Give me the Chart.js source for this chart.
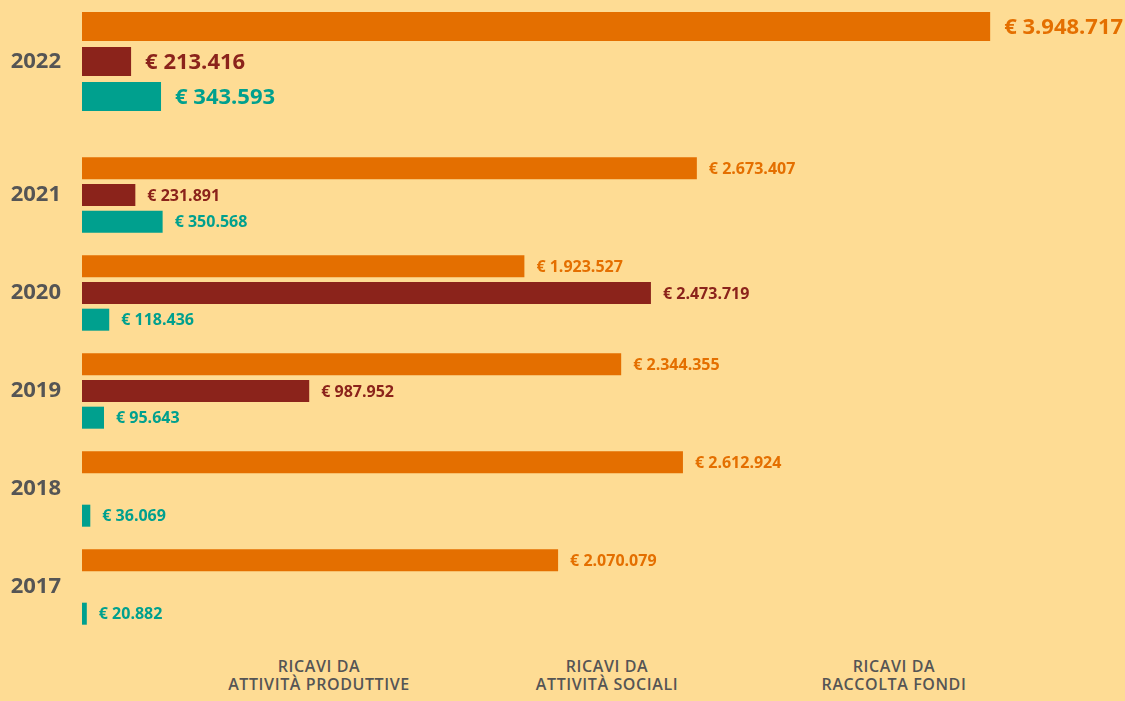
<!DOCTYPE html>
<html lang="it">
<head>
<meta charset="utf-8">
<title>Ricavi 2017-2022</title>
<script src="https://cdn.jsdelivr.net/npm/chart.js@4.4.1/dist/chart.umd.min.js"></script>
<style>
  html, body {
    margin: 0;
    padding: 0;
    background: #fedc94;
    width: 1125px;
    height: 701px;
    overflow: hidden;
    font-family: "Open Sans", sans-serif;
  }
  .box { position: absolute; left: 0; width: 1125px; }
  #boxTop { top: 0; height: 123px; }
  #boxBottom { top: 146px; height: 490px; }
  .voce {
    position: absolute;
    top: 657px;
    width: 290px;
    text-align: center;
    font-size: 16px;
    font-weight: 600;
    letter-spacing: 0.6px;
    line-height: 18px;
    color: #555555;
  }
</style>
</head>
<body>
<div class="box" id="boxTop"><canvas id="chart2022"></canvas></div>
<div class="box" id="boxBottom"><canvas id="chartStorico"></canvas></div>
<div id="voci"></div>

<script>
// dati dei ricavi per anno (in euro)
const anni = ["2022", "2021", "2020", "2019", "2018", "2017"];
const raccoltaFondi = [3948717, 2673407, 1923527, 2344355, 2612924, 2070079];
const attivitaSociali = [213416, 231891, 2473719, 987952, null, null];
const attivitaProduttive = [343593, 350568, 118436, 95643, 36069, 20882];

// voci della didascalia in fondo
const vociLegenda = [
  ["RICAVI DA", "ATTIVITÀ PRODUTTIVE"],
  ["RICAVI DA", "ATTIVITÀ SOCIALI"],
  ["RICAVI DA", "RACCOLTA FONDI"]
];
const centriVoci = [319, 607, 894];

const ARANCIO = "#e46f00";
const BORDEAUX = "#8b231b";
const VERDE = "#00a08e";
const GRIGIO = "#555555";

// stessa scala per i due grafici
const X_MAX = 4535000;

function formatta(v) {
  return String(v).replace(/\B(?=(\d{3})+(?!\d))/g, ".");
}

// scrive il valore accanto a ogni barra, dello stesso colore
const etichetteValori = {
  id: "etichetteValori",
  afterDatasetsDraw(chart, args, opts) {
    const ctx = chart.ctx;
    chart.data.datasets.forEach((ds, i) => {
      const meta = chart.getDatasetMeta(i);
      meta.data.forEach((bar, j) => {
        const v = ds.data[j];
        if (v == null) return;
        ctx.save();
        ctx.font = "700 " + opts.size + "px 'Open Sans'";
        ctx.fillStyle = ds.backgroundColor;
        ctx.textAlign = "left";
        ctx.textBaseline = "middle";
        ctx.fillText("€ " + formatta(v), bar.x + opts.offset, bar.y + 1);
        ctx.restore();
      });
    });
  }
};

function creaGrafico(idCanvas, etichette, righe, opz) {
  return new Chart(document.getElementById(idCanvas), {
    type: "bar",
    data: {
      labels: etichette,
      datasets: [
        { label: "Raccolta fondi", data: righe.fondi, backgroundColor: ARANCIO },
        { label: "Attività sociali", data: righe.sociali, backgroundColor: BORDEAUX },
        { label: "Attività produttive", data: righe.produttive, backgroundColor: VERDE }
      ]
    },
    options: {
      indexAxis: "y",
      responsive: true,
      maintainAspectRatio: false,
      animation: false,
      categoryPercentage: opz.categoryPercentage,
      barPercentage: opz.barPercentage,
      layout: { padding: opz.padding },
      scales: {
        x: { display: false, min: 0, max: X_MAX },
        y: {
          grid: { display: false },
          border: { display: false },
          ticks: {
            padding: 13,
            color: GRIGIO,
            font: { family: "Open Sans", size: 22, weight: "700" }
          },
          // asse largo fisso, senza margini extra sopra e sotto
          afterFit: (axis) => {
            axis.width = 82;
            axis.paddingTop = 0;
            axis.paddingBottom = 0;
          }
        }
      },
      plugins: {
        legend: { display: false },
        tooltip: { enabled: false },
        etichetteValori: { size: opz.sizeValori, offset: opz.offset }
      }
    },
    plugins: [etichetteValori]
  });
}

// 2022 in evidenza, barre piu' grandi
creaGrafico("chart2022", anni.slice(0, 1), {
  fondi: raccoltaFondi.slice(0, 1),
  sociali: attivitaSociali.slice(0, 1),
  produttive: attivitaProduttive.slice(0, 1)
}, {
  categoryPercentage: 1,
  barPercentage: 0.83,
  padding: { top: 9, bottom: 9, left: 0, right: 0 },
  sizeValori: 22,
  offset: 14
});

// anni precedenti
creaGrafico("chartStorico", anni.slice(1), {
  fondi: raccoltaFondi.slice(1),
  sociali: attivitaSociali.slice(1),
  produttive: attivitaProduttive.slice(1)
}, {
  categoryPercentage: 0.817,
  barPercentage: 0.825,
  padding: 0,
  sizeValori: 16,
  offset: 12
});

// didascalia sotto il grafico
const contenitore = document.getElementById("voci");
vociLegenda.forEach((righe, i) => {
  const el = document.createElement("div");
  el.className = "voce";
  el.style.left = (centriVoci[i] - 145) + "px";
  el.innerHTML = righe.join("<br>");
  contenitore.appendChild(el);
});
</script>
</body>
</html>
